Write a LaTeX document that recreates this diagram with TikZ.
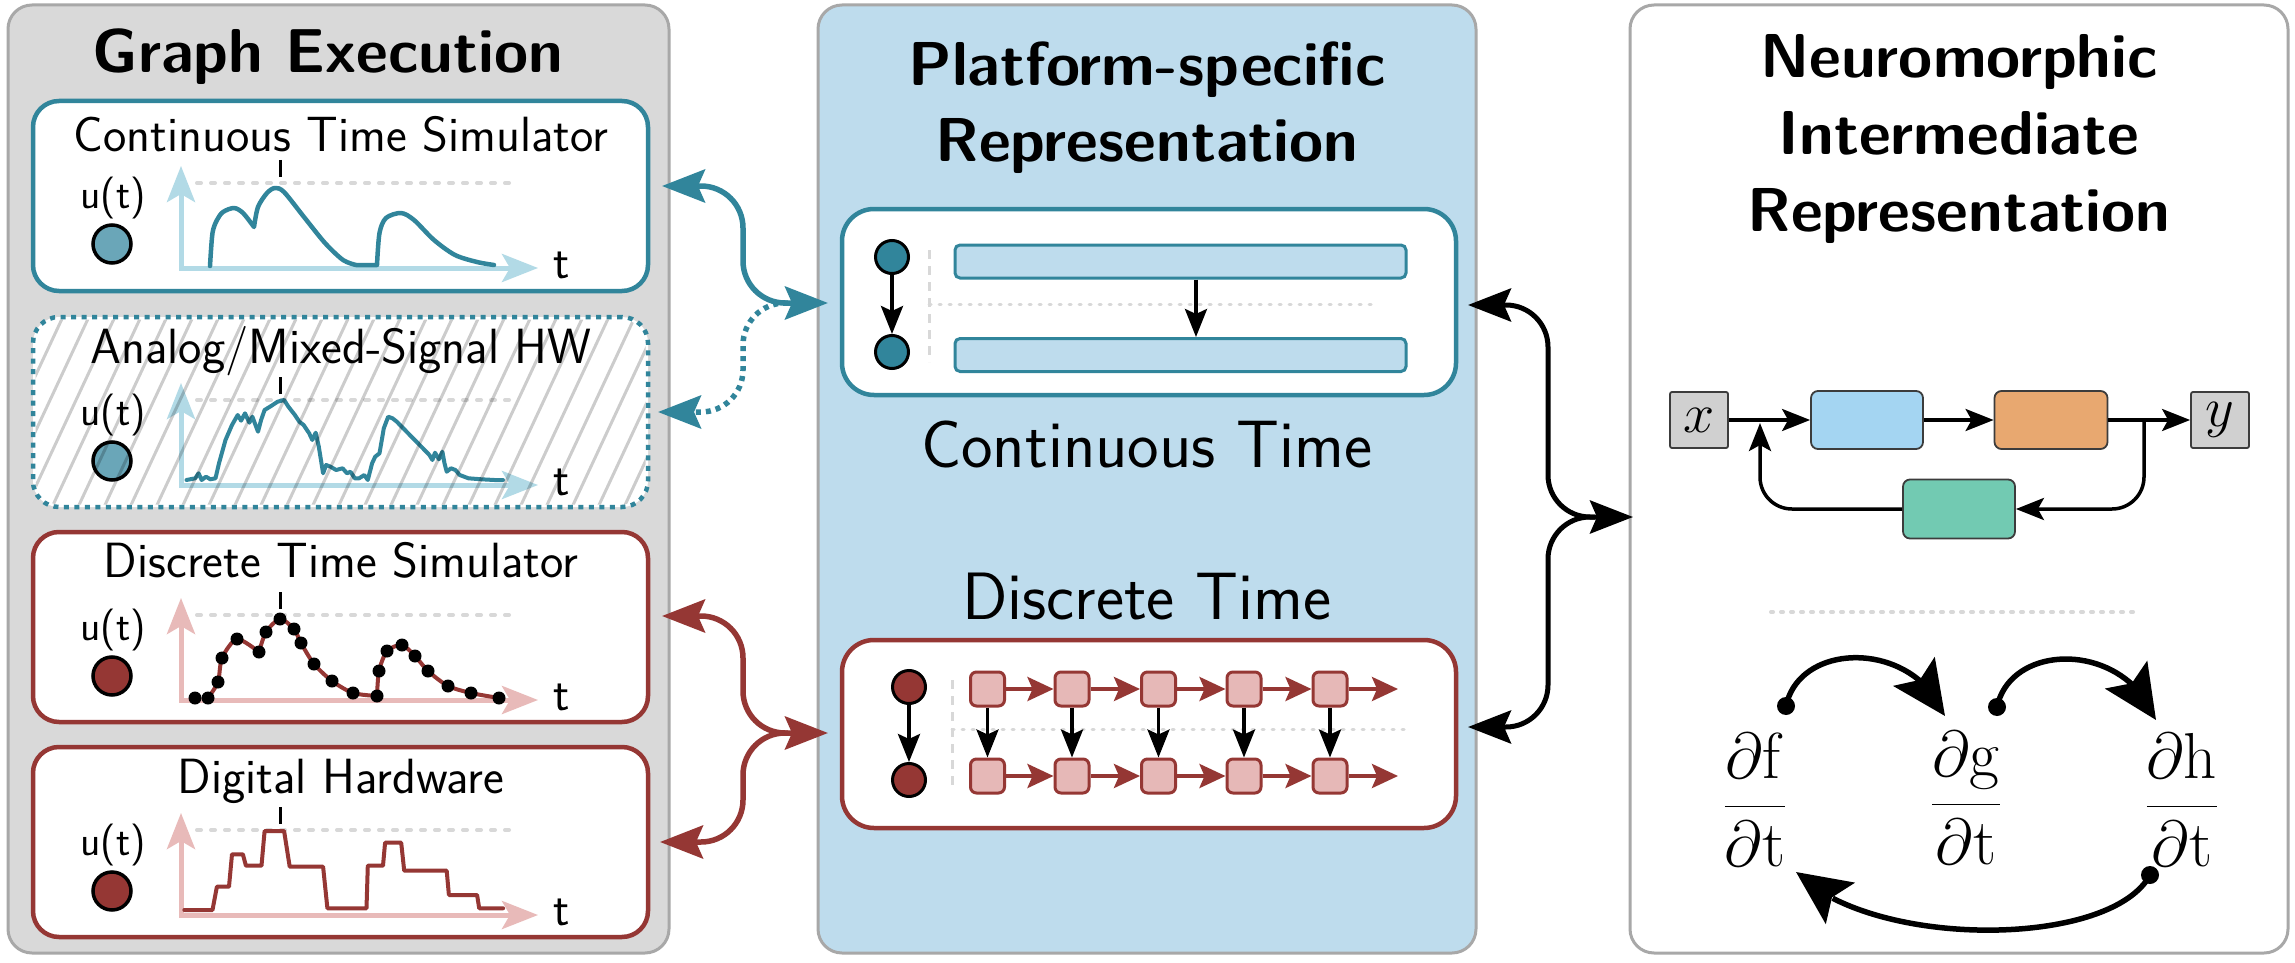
\RequirePackage{fix-cm}
\documentclass[tikz,border=0pt]{standalone}
\usepackage{amsmath}
\usetikzlibrary{arrows.meta,bending}

% palette
\definecolor{tealdk}{RGB}{49,133,155}
\definecolor{teallt}{RGB}{106,166,184}
\definecolor{axblue}{RGB}{178,218,230}
\definecolor{reddk}{RGB}{149,55,52}
\definecolor{axred}{RGB}{232,186,185}
\definecolor{sqred}{RGB}{230,184,183}
\definecolor{pgray}{RGB}{217,217,217}
\definecolor{pblue}{RGB}{190,220,237}
\definecolor{pborder}{RGB}{168,168,168}
\definecolor{guide}{RGB}{216,216,216}
\definecolor{bdblue}{RGB}{164,213,242}
\definecolor{bdorange}{RGB}{232,168,112}
\definecolor{bdgreen}{RGB}{114,202,178}
\definecolor{bdgray}{RGB}{208,208,208}
\definecolor{bdedge}{RGB}{60,60,60}

% type faces
\newcommand\hdrfont{\sffamily\bfseries\fontsize{62}{77}\selectfont}
\newcommand\boxfont{\sffamily\fontsize{49.5}{55}\selectfont}
\newcommand\reprfont{\sffamily\fontsize{67}{75}\selectfont}
\newcommand\utfont{\sffamily\fontsize{42}{45}\selectfont}
\newcommand\axfont{\sffamily\fontsize{48}{50}\selectfont}

\tikzset{
  panel/.style={draw=pborder, line width=3pt, rounded corners=24pt, inner sep=0pt, minimum height=948pt},
  exbox/.style={fill=white, line width=4.5pt, rounded corners=26pt, inner sep=0pt,
    minimum width=615pt, minimum height=190pt},
  reprbox/.style={fill=white, line width=4.5pt, rounded corners=32pt, inner sep=0pt, minimum width=614pt},
  neuron/.style={circle, draw=black, line width=3.5pt, inner sep=0pt, minimum size=38pt},
  unitnode/.style={circle, draw=black, line width=3pt, inner sep=0pt, minimum size=33pt},
  timebar/.style={draw=tealdk, fill=pblue, line width=3pt, rounded corners=5pt, inner sep=0pt,
    minimum width=451pt, minimum height=33pt},
  stepsq/.style={draw=reddk, fill=sqred, line width=3pt, rounded corners=6pt, inner sep=0pt,
    minimum size=34pt},
  guideline/.style={draw=guide, line width=4pt, dash pattern=on 4pt off 10pt, line cap=round},
  guidedot/.style={draw=guide, line width=3pt, dash pattern=on 2pt off 8pt, line cap=round},
  guidedash/.style={draw=guide, line width=3pt, dash pattern=on 9pt off 7pt},
  peakmark/.style={draw=black, line width=3pt},
  axtip/.tip={Stealth[length=36pt,width=28pt,inset=8pt]},
  linktip/.tip={Stealth[length=43pt,width=33pt,inset=7pt]},
  smalltip/.tip={Stealth[length=28pt,width=22pt,inset=5pt]},
  redtip/.tip={Stealth[length=26pt,width=24pt,inset=5pt]},
  bdtip/.tip={Stealth[length=28pt,width=22pt,inset=6pt]},
  dertip/.tip={Stealth[length=54pt,width=50pt,inset=10pt]},
  axes/.style={line width=5pt, axtip-axtip},
  trace/.style={line width=4.5pt, line join=round, line cap=round},
  hatchline/.style={draw=black, draw opacity=0.2, line width=3pt},
  link/.style={line width=5.5pt, rounded corners=42pt},
  flowarrow/.style={draw=black, line width=3.5pt, -smalltip},
  steparrow/.style={draw=reddk, line width=4pt, -redtip},
  bdnode/.style={draw=bdedge, line width=1.8pt, rounded corners=7pt, inner sep=0pt,
    font=\fontsize{56}{56}\selectfont},
  bdarrow/.style={draw=black, line width=3.5pt, -bdtip},
  dernode/.style={font=\fontsize{65}{68}\selectfont},
  derdot/.style={circle, fill=black, inner sep=0pt, minimum size=18pt},
  derarrow/.style={draw=black, line width=5.5pt, -dertip},
}

\begin{document}
\begin{tikzpicture}[x=1pt, y=-1pt]
\useasboundingbox (0,0) rectangle (2295,963);

% ---------------- three column panels ----------------
\node[panel, fill=pgray, minimum width=661pt] (gepanel) at (338.5,479) {};
\node[panel, fill=pblue, minimum width=658pt] (psrpanel) at (1147,479) {};
\node[panel, fill=white, minimum width=658pt] (nirpanel) at (1959,479) {};

% headings (base anchor of a multi-line node sits on its last line)
\node[font=\hdrfont, anchor=base] (getitle) at (328,73) {Graph Execution};
\node[font=\hdrfont, align=center, anchor=base] (psrtitle) at (1147,162) {Platform-specific\\Representation};
\node[font=\hdrfont, align=center, anchor=base] (nirtitle) at (1959,231) {Neuromorphic\\Intermediate\\Representation};

% ---------------- graph execution: continuous time simulator ----------------
\node[exbox, draw=tealdk] (cts) at (340.5,196) {};
\begin{scope}[shift={(0,100)}]
  \draw[guideline] (197,83) -- (516,83);
  \draw[axes, draw=axblue] (181,66) -- (181,168) -- (538,168);
  \draw[peakmark] (280,60) -- (280,77);
  \draw[trace, draw=tealdk]
    plot[smooth, tension=0.5] coordinates {(210,166) (212.5,133) (217,120) (223,112) (234,108) (243,113) (254,127)}
    -- plot[smooth, tension=0.5] coordinates {(254,127) (258,107) (267,93) (275,88) (284,92) (304,117) (325,143) (343,160) (356,165)}
    -- (377,165)
    -- plot[smooth, tension=0.5] coordinates {(377,165) (379.5,133) (386,118) (401,113) (414,120) (434,140) (455,155) (477,162) (494,165)};
  \node[neuron, fill=teallt] (ctsn) at (112,144) {};
  \node[anchor=base, font=\boxfont] (ctstitle) at (341,52) {Continuous Time Simulator};
  \node[anchor=base, font=\utfont] (ctsu) at (113,108) {u(t)};
  \node[anchor=base, font=\axfont] (ctst) at (562,178) {t};
\end{scope}

% ---------------- graph execution: analog / mixed-signal hardware ----------------
\node[exbox, draw=tealdk, dash pattern=on 5pt off 5.5pt] (ams) at (340.5,412) {};
\begin{scope}[shift={(0,317)}]
  \draw[guideline] (197,83) -- (516,83);
  \draw[axes, draw=axblue] (181,66) -- (181,168) -- (538,168);
  \draw[peakmark] (280,60) -- (280,77);
  \draw[trace, draw=tealdk, line width=4pt] plot[sharp plot] coordinates {
    (186.5,163) (195.2,161.3) (198.6,156.3) (201.7,163) (206,159.7) (210.3,162.3) (215.5,161.3)
    (219,146.3) (225.5,123) (232,108) (237.7,98) (241.1,103.7) (245,96.3) (249.4,105.7)
    (252.4,99.7) (258,114.7) (261.1,103) (264.6,93) (271.1,89) (277.6,84.7) (284.1,83)
    (288.4,89.7) (294.9,98) (299.3,104.7) (303.6,108) (309.2,116.3) (312.3,123) (315.7,115.7)
    (318.8,129.7) (323.1,156.3) (326.1,148) (330.5,149.7) (336.1,153) (342.6,151.3) (347,156.3)
    (350.4,154.7) (354.8,161.3) (359.1,161.3) (364.3,158) (367.8,163) (372.1,146.3) (375.2,139.7)
    (379.5,136.3) (383.8,111.3) (388.2,99.7) (392.5,101.3) (396.8,104.7) (403.3,111.3) (409.8,118)
    (416.4,124.7) (422.9,131.3) (429.4,138) (432.4,143) (435,135.7) (438.9,142.3) (442.4,134.7)
    (444.5,146.3) (446.7,154.7) (451,151.3) (455.4,153) (459.7,158) (468.4,161.3) (481.4,162.3)
    (494.4,163) (503,163)};
  \node[neuron, fill=teallt] (amsn) at (112,144) {};
\end{scope}
% diagonal hatching over the analog box
\begin{scope}
  \clip[rounded corners=24pt] (35.5,319.5) rectangle (645.5,504.5);
  \foreach \k in {0,...,29} \draw[hatchline] ({-110+26*\k},520) -- ++(100,-214);
\end{scope}
\begin{scope}[shift={(0,317)}]
  \node[anchor=base, font=\boxfont] (amstitle) at (341,46) {Analog/Mixed-Signal HW};
  \node[anchor=base, font=\utfont] (amsu) at (113,108) {u(t)};
  \node[anchor=base, font=\axfont] (amst) at (562,178) {t};
\end{scope}

% ---------------- graph execution: discrete time simulator ----------------
\node[exbox, draw=reddk] (dts) at (340.5,627) {};
\begin{scope}[shift={(0,532)}]
  \draw[guideline] (197,83) -- (516,83);
  \draw[axes, draw=axred] (181,66) -- (181,168) -- (538,168);
  \draw[peakmark] (280,60) -- (280,77);
  \draw[trace, draw=reddk, line width=4pt]
    plot[smooth, tension=0.45] coordinates {(208,166) (218,150) (222,126) (237,107) (259,120)}
    -- plot[smooth, tension=0.45] coordinates {(259,120) (266,100) (280,87) (294,97) (301,111) (314,132) (332,149) (353,161) (377,164)}
    -- plot[smooth, tension=0.45] coordinates {(377,164) (379,139) (387,119) (402,113) (415,124) (428,139) (448,154) (471,161) (499,166)};
  \foreach \p in {(195,166),(208,166),(218,150),(222,126),(237,107),(259,120),(266,100),(280,87),
    (294,97),(301,111),(314,132),(332,149),(353,161),(377,164),(379,139),(387,119),(402,113),
    (415,124),(428,139),(448,154),(471,161),(499,166)}
    \fill[black] \p circle (6.5pt);
  \node[neuron, fill=reddk] (dtsn) at (112,144) {};
  \node[anchor=base, font=\boxfont] (dtstitle) at (341,45) {Discrete Time Simulator};
  \node[anchor=base, font=\utfont] (dtsu) at (113,108) {u(t)};
  \node[anchor=base, font=\axfont] (dtst) at (562,178) {t};
\end{scope}

% ---------------- graph execution: digital hardware ----------------
\node[exbox, draw=reddk] (dhw) at (340.5,842) {};
\begin{scope}[shift={(0,747)}]
  \draw[guideline] (197,83) -- (516,83);
  \draw[axes, draw=axred] (181,66) -- (181,168) -- (538,168);
  \draw[peakmark] (280,60) -- (280,77);
  \draw[trace, draw=reddk, line width=4pt] (184.3,163) -- (212.5,163) -- (216.9,139.7) -- (229,139.7)
    -- (232,107.3) -- (242.9,107.3) -- (245.9,118.7) -- (261.5,118.7) -- (264.6,84) -- (284.1,84)
    -- (289.7,119.7) -- (323.1,119.7) -- (327.4,161.3) -- (366.5,161.3) -- (367.8,118.7) -- (383,118.7)
    -- (385.1,95.7) -- (401.2,95.7) -- (404.2,123.7) -- (446.7,123.7) -- (448.9,148) -- (477.1,148)
    -- (479.2,161.3) -- (503.1,161.3);
  \node[neuron, fill=reddk] (dhwn) at (112,144) {};
  \node[anchor=base, font=\boxfont] (dhwtitle) at (341,46) {Digital Hardware};
  \node[anchor=base, font=\utfont] (dhwu) at (113,108) {u(t)};
  \node[anchor=base, font=\axfont] (dhwt) at (562,178) {t};
\end{scope}

% ---------------- platform-specific: continuous time ----------------
\node[reprbox, draw=tealdk, minimum height=186pt] (ctrep) at (1149,302) {};
\draw[guidedash] (929,250) -- (929,362);
\draw[guidedot] (929,304) -- (1378,304);
\node[unitnode, fill=tealdk] (ctn1) at (892,257) {};
\node[unitnode, fill=tealdk] (ctn2) at (892,352) {};
\draw[flowarrow] (ctn1) -- (ctn2);
\node[timebar] (ctbar1) at (1180.5,261.5) {};
\node[timebar] (ctbar2) at (1180.5,355) {};
\draw[flowarrow] ([xshift=15.5pt]ctbar1.south) -- ([xshift=15.5pt]ctbar2.north);
\node[anchor=base, font=\reprfont] (ctlabel) at (1147,467) {Continuous Time};

% ---------------- platform-specific: discrete time ----------------
\node[anchor=base, font=\reprfont] (dtlabel) at (1147,619) {Discrete Time};
\node[reprbox, draw=reddk, minimum height=188pt] (dtrep) at (1149,734) {};
\draw[guidedash] (952,680) -- (952,792);
\draw[guidedot] (952,729) -- (1407,729);
\node[unitnode, fill=reddk] (dtn1) at (909,687) {};
\node[unitnode, fill=reddk] (dtn2) at (909,780) {};
\draw[flowarrow] (dtn1) -- (dtn2);
\foreach \i/\x in {1/987.5,2/1072,3/1158.5,4/1244,5/1330} {
  \node[stepsq] (sqt\i) at (\x,689) {};
  \node[stepsq] (sqb\i) at (\x,776) {};
}
\coordinate (sqtend) at (1398,689);
\coordinate (sqbend) at (1398,776);
\foreach \i/\j in {1/2,2/3,3/4,4/5} {
  \draw[steparrow] (sqt\i.east) -- (sqt\j.west);
  \draw[steparrow] (sqb\i.east) -- (sqb\j.west);
}
\draw[steparrow] (sqt5.east) -- (sqtend);
\draw[steparrow] (sqb5.east) -- (sqbend);
\foreach \i in {1,...,5} \draw[flowarrow] (sqt\i.south) -- (sqb\i.north);

% ---------------- links between the columns ----------------
\coordinate (cts-r) at (662,186);
\coordinate (ams-r) at (658,412);
\coordinate (dts-r) at (662,616);
\coordinate (dhw-r) at (660,842);
\coordinate (ct-l) at (828,303);
\coordinate (ct-join) at (788,303);
\coordinate (dt-l) at (828,733);
\coordinate (dt-join) at (788,733);
\coordinate (ct-r) at (1468,305);
\coordinate (dt-r) at (1468,727);
\coordinate (nir-l) at (1633,517);
\coordinate (nir-join) at (1595,517);

\draw[link, draw=tealdk, linktip-linktip] (cts-r) -- (743,186) -- (743,303) -- (ct-l);
\draw[link, draw=tealdk, dash pattern=on 5pt off 5pt, -linktip] (ct-join) -- (743,303) -- (743,412) -- (ams-r);
\draw[link, draw=reddk, linktip-linktip] (dts-r) -- (743,616) -- (743,733) -- (dt-l);
\draw[link, draw=reddk, -linktip] (dt-join) -- (743,733) -- (743,842) -- (dhw-r);
\draw[link, draw=black, line width=5pt, linktip-linktip] (ct-r) -- (1548,305) -- (1548,517) -- (nir-l);
\draw[link, draw=black, line width=5pt, -linktip] (nir-join) -- (1548,517) -- (1548,727) -- (dt-r);

% ---------------- NIR: block diagram ----------------
\node[bdnode, fill=bdgray, minimum width=58pt, minimum height=56pt, rounded corners=2pt] (xin) at (1699,420) {$x$};
\node[bdnode, fill=bdblue, minimum width=112pt, minimum height=58pt] (blkA) at (1867,420) {};
\node[bdnode, fill=bdorange, minimum width=113pt, minimum height=58pt] (blkB) at (2051,420) {};
\node[bdnode, fill=bdgray, minimum width=58pt, minimum height=56pt, rounded corners=2pt] (yout) at (2220,420) {$y$};
\node[bdnode, fill=bdgreen, minimum width=112pt, minimum height=59pt] (blkC) at (1959,509) {};
\draw[bdarrow] (xin) -- (blkA);
\draw[bdarrow] (blkA) -- (blkB);
\draw[bdarrow] (blkB) -- (yout);
\coordinate (fbsplit) at (2144,420);
\coordinate (fbmerge) at (1760,423);
\draw[bdarrow, rounded corners=32pt] (fbsplit) |- (blkC.east);
\draw[bdarrow, rounded corners=32pt] (blkC.west) -| (fbmerge);

\draw[guidedot, line width=4pt] (1771,612) -- (2139,612);

% ---------------- NIR: coupled derivatives ----------------
\node[dernode] (df) at (1755,800) {$\displaystyle\frac{\partial\mathrm{f}}{\partial\mathrm{t}}$};
\node[dernode] (dg) at (1966,798) {$\displaystyle\frac{\partial\mathrm{g}}{\partial\mathrm{t}}$};
\node[dernode] (dh) at (2182,800) {$\displaystyle\frac{\partial\mathrm{h}}{\partial\mathrm{t}}$};
\node[derdot] (fdot) at (1786,706) {};
\node[derdot] (gdot) at (1997,707) {};
\node[derdot] (hdot) at (2150,875) {};
\coordinate (gin) at (1945,716);
\coordinate (hin) at (2156,720);
\coordinate (fin) at (1796,872);
\draw[derarrow] (fdot.center) .. controls (1800,640) and (1915,640) .. (gin);
\draw[derarrow] (gdot.center) .. controls (2011,641) and (2126,641) .. (hin);
\draw[derarrow] (hdot.center) .. controls (2110,949) and (1870,949) .. (fin);
\end{tikzpicture}
\end{document}
